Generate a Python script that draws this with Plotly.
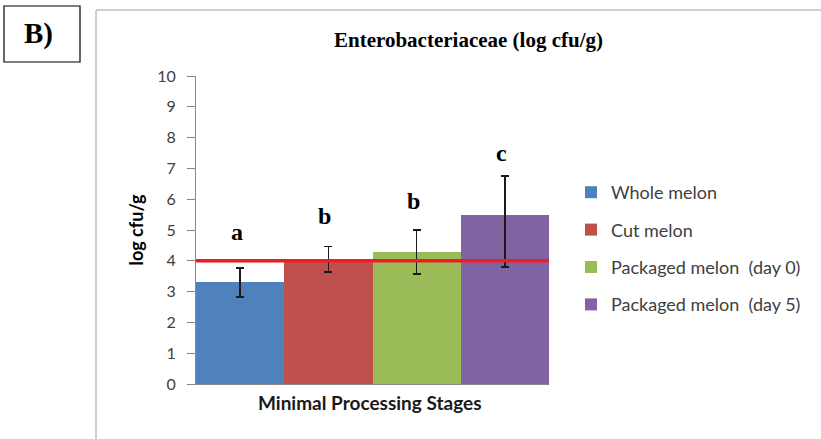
import plotly.graph_objects as go

W, H = 821, 439
categories = ["Whole melon", "Cut melon", "Packaged melon  (day 0)", "Packaged melon  (day 5)"]
values = [3.3, 4.05, 4.28, 5.48]
err_plus = [0.46, 0.42, 0.72, 1.28]
err_minus = [0.48, 0.42, 0.70, 1.68]
colors = ["#4F81BD", "#C0504D", "#9BBB59", "#8064A2"]
letters = ["a", "b", "b", "c"]
letter_y = [4.94, 5.45, 5.94, 7.5]
limit_value = 4.0
y_ticks = list(range(0, 11))
x_title = "Minimal Processing Stages"

L, R, T, B = 196, 272, 76, 55
pw, ph = W - L - R, H - T - B

def px(x):
    return (x - L) / pw

def py(y):
    return (H - B - y) / ph

fig = go.Figure()
for i, (c, v) in enumerate(zip(categories, values)):
    fig.add_trace(go.Bar(
        x=[0], y=[v], name=c, marker=dict(color=colors[i], line=dict(width=0)),
        error_y=dict(type="data", symmetric=False, array=[err_plus[i]], arrayminus=[err_minus[i]],
                     color="#1a1a1a", thickness=1.6, width=4),
        legendgroup=c,
    ))

n = len(categories)
centers = [-0.5 + (i + 0.5) / n for i in range(n)]
for xc, lt, ly in zip(centers, letters, letter_y):
    fig.add_annotation(x=xc - 0.01, y=ly, xref="x", yref="y", text="<b>%s</b>" % lt, showarrow=False,
                       xanchor="center", yanchor="middle",
                       font=dict(family="Liberation Serif", size=24, color="#000"))

fig.add_shape(type="line", xref="x domain", yref="y", x0=0, x1=1, y0=limit_value, y1=limit_value,
              line=dict(color="#EE1C25", width=3.5))

# outer frame and B) box
fig.add_shape(type="line", xref="paper", yref="paper", x0=px(96), x1=px(96), y0=py(10), y1=py(439),
              line=dict(color="#BFBFBF", width=1.5))
fig.add_shape(type="line", xref="paper", yref="paper", x0=px(96), x1=px(821), y0=py(10), y1=py(10),
              line=dict(color="#BFBFBF", width=1.5))
fig.add_shape(type="rect", xref="paper", yref="paper", x0=px(4), x1=px(80), y0=py(62), y1=py(6),
              line=dict(color="#000", width=1.2))
fig.add_annotation(xref="paper", yref="paper", x=px(38), y=py(34), text="<b>B)</b>", showarrow=False,
                   xanchor="center", yanchor="middle",
                   font=dict(family="Liberation Serif", size=29, color="#000"))
fig.add_annotation(xref="paper", yref="paper", x=px(468), y=py(40), text="<b>Enterobacteriaceae (log cfu/g)</b>",
                   showarrow=False, xanchor="center", yanchor="middle",
                   font=dict(family="Liberation Serif", size=21, color="#000"))
fig.add_annotation(xref="paper", yref="paper", x=px(370), y=py(402), text="<b>%s</b>" % x_title,
                   showarrow=False, xanchor="center", yanchor="middle",
                   font=dict(family="Lato", size=19, color="#1a1a1a"))

fig.update_layout(
    width=W, height=H, margin=dict(l=L, r=R, t=T, b=B),
    paper_bgcolor="white", plot_bgcolor="white",
    barmode="group", bargap=0, bargroupgap=0,
    showlegend=True,
    legend=dict(x=px(571), y=py(174), xanchor="left", yanchor="top", tracegroupgap=11,
                font=dict(family="Lato", size=18, color="#404040"), itemwidth=30),
    xaxis=dict(range=[-0.5, 0.5], showticklabels=False, ticks="", showline=True, linecolor="#878787",
               linewidth=1, showgrid=False, zeroline=False, fixedrange=True),
    yaxis=dict(range=[0, 10], tickvals=y_ticks, ticks="outside", ticklen=8, tickcolor="#878787",
               showline=True, linecolor="#878787", linewidth=1, showgrid=False, zeroline=False,
               ticklabelstandoff=8,
               tickfont=dict(family="Lato", size=16, color="#404040"),
               title=dict(text="<b>log cfu/g</b>", font=dict(family="Lato", size=18, color="#000"), standoff=8)),
)

fig.write_html("out.html")
